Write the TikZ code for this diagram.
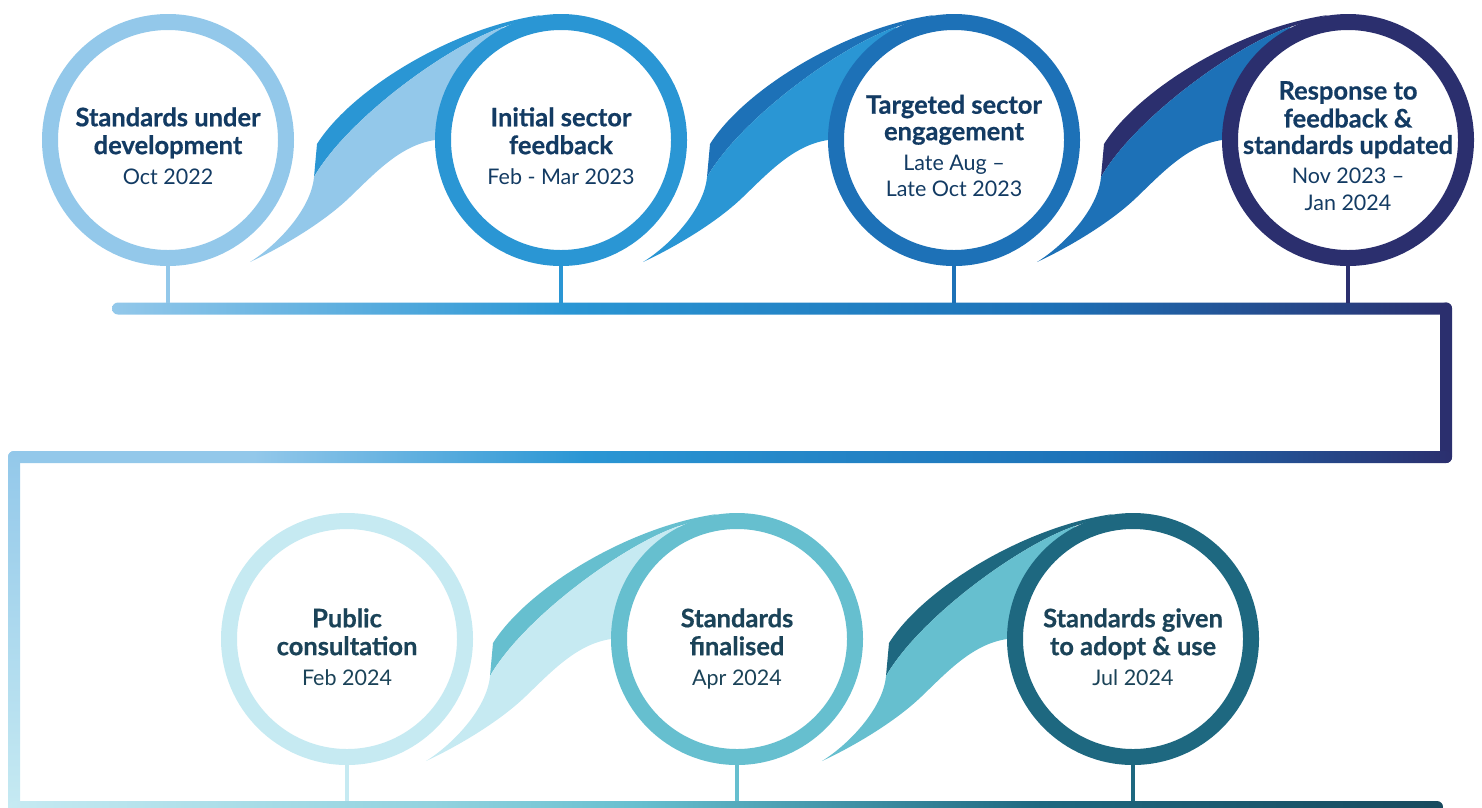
\documentclass[tikz,border=0pt]{standalone}
\usepackage{fontspec}
\setmainfont{Lato}[BoldFeatures={FakeBold=0.6}]
\usetikzlibrary{positioning}

\definecolor{c1}{HTML}{93C8EA}
\definecolor{c2}{HTML}{2A96D4}
\definecolor{c3}{HTML}{1D71B7}
\definecolor{c4}{HTML}{2B2F6E}
\definecolor{d1}{HTML}{C6EAF2}
\definecolor{d2}{HTML}{66BFCF}
\definecolor{d3}{HTML}{1E6880}
\definecolor{d4}{HTML}{184A5E}
\colorlet{d12}{d1!45!d2}
\definecolor{txttop}{HTML}{133B63}
\definecolor{txtbot}{HTML}{1B4358}

\pgfdeclarehorizontalshading{topbarshade}{100bp}{color(0bp)=(c1); color(25bp)=(c1); color(42bp)=(c2); color(60bp)=(c3); color(75bp)=(c4); color(100bp)=(c4)}
\pgfdeclarehorizontalshading{midbarshade}{100bp}{color(0bp)=(c1); color(25bp)=(c1); color(33.5bp)=(c1); color(45bp)=(c2); color(63bp)=(c3); color(75bp)=(c4); color(100bp)=(c4)}
\pgfdeclarehorizontalshading{botbarshade}{100bp}{color(0bp)=(d1); color(25bp)=(d1); color(40bp)=(d12); color(47bp)=(d2); color(61bp)=(d3); color(75bp)=(d4); color(100bp)=(d4)}

\newcommand{\tf}{\fontsize{25.5}{26.5}\selectfont\bfseries}
\newcommand{\df}{\fontsize{21.5}{26.5}\selectfont}

% ribbon that runs from one stage up into the next one
\newcommand{\swoosh}[3]{%
  \begin{scope}[shift={(#1)}]
    \fill[#3] (-247,37) -- (-244,4) .. controls (-210,-50) and (-110,-112) .. (-20,-125) -- (-58,-113) .. controls (-112,-95) and (-213,-22) .. (-247,37) -- cycle;
    \fill[#2] (-311,122) .. controls (-285,106) and (-250,70) .. (-247,37) .. controls (-213,-22) and (-112,-95) .. (-58,-113) -- (0,0) -- (-126,0) .. controls (-160,5) and (-185,32) .. (-211,57) .. controls (-240,85) and (-285,110) .. (-311,122) -- cycle;
  \end{scope}}

\tikzset{
  stage/.style={circle, draw=#1, line width=16pt, fill=white, minimum size=236pt, inner sep=0pt},
  stem/.style={draw=#1, line width=4.5pt},
  stagetext/.style={align=center, text=#1, inner sep=0pt, font=\fontsize{24}{26.5}\selectfont},
}

\begin{document}
\begin{tikzpicture}[x=1pt, y=-1pt]
\useasboundingbox (0,0) rectangle (1482,807);

% timeline
\shade[shading=topbarshade, rounded corners=6pt] (112,302.5) rectangle (1452,314.5);
\fill[c4, rounded corners=6pt] (1440,302.5) rectangle (1452,463);
\shade[shading=midbarshade, rounded corners=6pt] (8,451) rectangle (1452,463);
\shade[top color=c1, bottom color=d1, rounded corners=6pt] (8,451) rectangle (20,813);
\shade[shading=botbarshade, rounded corners=6pt] (8,801) rectangle (1443,813);
\coordinate (tb) at (0,302.5);
\coordinate (bb) at (0,801);

% stage centres
\coordinate (p1) at (168,140);
\coordinate (p2) at (561,140);
\coordinate (p3) at (954,140);
\coordinate (p4) at (1348,140);
\coordinate (p5) at (347,639);
\coordinate (p6) at (737,639);
\coordinate (p7) at (1133,639);

\swoosh{p2}{c1}{c2}
\swoosh{p3}{c2}{c3}
\swoosh{p4}{c3}{c4}
\swoosh{p6}{d1}{d2}
\swoosh{p7}{d2}{d3}

\node[stage=c1] (s1) at (p1) {};
\node[stage=c2] (s2) at (p2) {};
\node[stage=c3] (s3) at (p3) {};
\node[stage=c4] (s4) at (p4) {};
\node[stage=d1] (s5) at (p5) {};
\node[stage=d2] (s6) at (p6) {};
\node[stage=d3] (s7) at (p7) {};

\draw[stem=c1] (s1.south) -- (s1.south |- tb);
\draw[stem=c2] (s2.south) -- (s2.south |- tb);
\draw[stem=c3] (s3.south) -- (s3.south |- tb);
\draw[stem=c4] (s4.south) -- (s4.south |- tb);
\draw[stem=d1] (s5.south) -- (s5.south |- bb);
\draw[stem=d2] (s6.south) -- (s6.south |- bb);
\draw[stem=d3] (s7.south) -- (s7.south |- bb);

\node[stagetext=txttop] (t1) at ([yshift=-9.7pt]s1.center) {\tf\strut Standards under\\\tf development\\[3.5pt]\df Oct 2022\strut};
\node[stagetext=txttop] (t2) at ([yshift=-9.7pt]s2.center) {\tf\strut Initial sector\\\tf feedback\\[3.5pt]\df Feb - Mar 2023\strut};
\node[stagetext=txttop] (t3) at ([yshift=-9.7pt]s3.center) {\tf\strut Targeted sector\\\tf engagement\\[3.5pt]\df Late Aug --\\\df Late Oct 2023\strut};
\node[stagetext=txttop] (t4) at ([yshift=-9.7pt]s4.center) {\tf\strut Response to\\\tf feedback \&\\\tf standards updated\\[3.5pt]\df Nov 2023 --\\\df Jan 2024\strut};
\node[stagetext=txtbot] (t5) at ([yshift=-11.7pt]s5.center) {\tf\strut Public\\\tf consultation\\[3.5pt]\df Feb 2024\strut};
\node[stagetext=txtbot] (t6) at ([yshift=-11.7pt]s6.center) {\tf\strut Standards\\\tf finalised\\[3.5pt]\df Apr 2024\strut};
\node[stagetext=txtbot] (t7) at ([yshift=-11.7pt]s7.center) {\tf\strut Standards given\\\tf to adopt \& use\\[3.5pt]\df Jul 2024\strut};
\end{tikzpicture}
\end{document}
